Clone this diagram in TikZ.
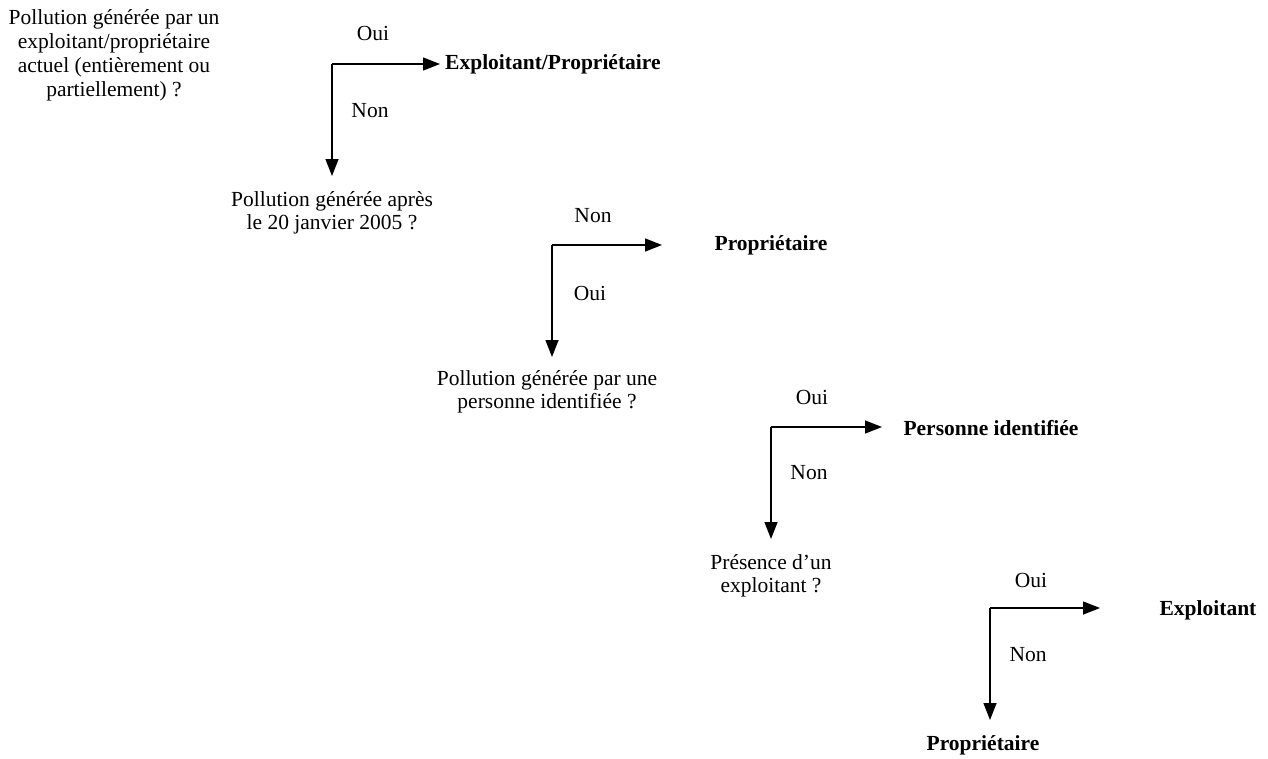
\documentclass[tikz,border=0pt]{standalone}
\usepackage{fontspec}
\setmainfont{Liberation Serif}
\usetikzlibrary{arrows.meta}
\begin{document}
\begin{tikzpicture}[x=1pt,y=-1pt,
  question/.style={align=center,inner sep=0pt,font=\fontsize{21.5}{23.5}\selectfont},
  answer/.style={inner sep=0pt,font=\fontsize{21.5}{23.5}\selectfont\bfseries},
  choice/.style={inner sep=0pt,font=\fontsize{21.5}{23.5}\selectfont},
  branch/.style={line width=1.4pt,-{Triangle[length=17pt,width=13pt]}}]
\useasboundingbox (0,0) rectangle (1268,758);

% questions
\node[question,font=\fontsize{21.5}{24}\selectfont] (q1) at (114,55) {Pollution générée par un\\exploitant/propriétaire\\actuel (entièrement ou\\partiellement) ?};
\node[question] (q2) at (332,213) {Pollution générée après\\le 20 janvier 2005 ?};
\node[question] (q3) at (547,392) {Pollution générée par une\\personne identifiée ?};
\node[question] (q4) at (771,576) {Présence d’un\\exploitant ?};

% outcomes
\node[answer,anchor=west] (e1) at (445,64) {Exploitant/Propriétaire};
\node[answer] (p1) at (771,245) {Propriétaire};
\node[answer] (pi) at (991,428) {Personne identifiée};
\node[answer] (ex) at (1208,610) {Exploitant};
\node[answer] (p2) at (983,745) {Propriétaire};

% branch labels
\node[choice] (oui1) at (373,33) {Oui};
\node[choice] (non1) at (370,111) {Non};
\node[choice] (non2) at (593,216) {Non};
\node[choice] (oui2) at (590,293) {Oui};
\node[choice] (oui3) at (812,397) {Oui};
\node[choice] (non3) at (809,473) {Non};
\node[choice] (oui4) at (1031,580) {Oui};
\node[choice] (non4) at (1028,655) {Non};

% elbow corners and arrow tips
\coordinate (c1) at (332,64);  \coordinate (h1) at (440,64);  \coordinate (v1) at (332,176);
\coordinate (c2) at (552,245); \coordinate (h2) at (662,245); \coordinate (v2) at (552,357);
\coordinate (c3) at (771,427); \coordinate (h3) at (882,427); \coordinate (v3) at (771,539);
\coordinate (c4) at (990,608); \coordinate (h4) at (1100,608); \coordinate (v4) at (990,720);

\foreach \i in {1,2,3,4}{
  \draw[branch] (c\i) -- (h\i);
  \draw[branch] (c\i) -- (v\i);
}
\end{tikzpicture}
\end{document}
